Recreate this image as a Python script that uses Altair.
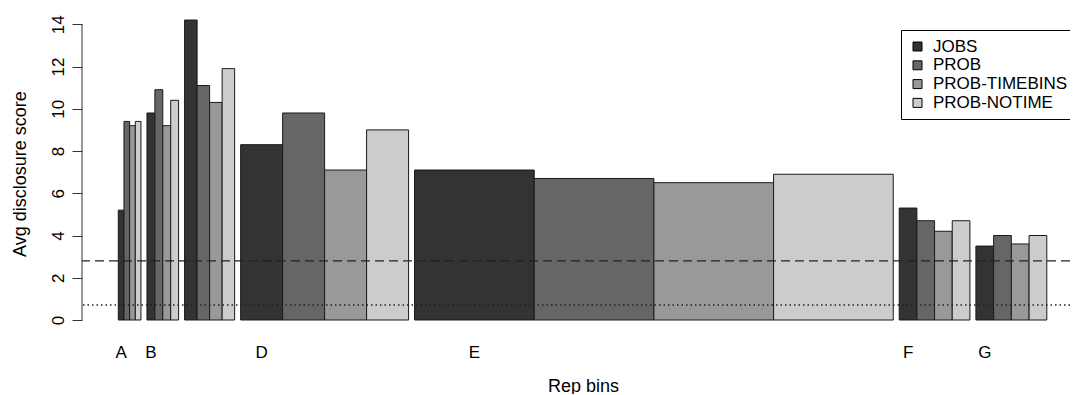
import altair as alt
import pandas as pd

# ---- data ----
groups = ["A", "B", "C", "D", "E", "F", "G"]
group_labels = ["A", "B", "", "D", "E", "F", "G"]
bin_widths = [0.947, 1.32, 2.09, 7.01, 19.98, 2.95, 2.96]
series = ["JOBS", "PROB", "PROB-TIMEBINS", "PROB-NOTIME"]
jobs = [5.2, 9.8, 14.2, 8.3, 7.1, 5.3, 3.5]
prob = [9.4, 10.9, 11.1, 9.8, 6.7, 4.7, 4.0]
prob_timebins = [9.2, 9.2, 10.3, 7.1, 6.5, 4.2, 3.6]
prob_notime = [9.4, 10.4, 11.9, 9.0, 6.9, 4.7, 4.0]
dashed_level = [2.8]
dotted_level = [0.71]
y_ticks = [0, 2, 4, 6, 8, 10, 12, 14]

gray_fills = ["#333333", "#666666", "#999999", "#cccccc"]
group_gap = 1.0
FONT = "Liberation Sans"

# ---- build table (like R's barplot with per-group widths) ----
values = [jobs, prob, prob_timebins, prob_notime]
rows, label_rows = [], []
start = 0.0
for gi, g in enumerate(groups):
    w = bin_widths[gi]
    for si, s in enumerate(series):
        x0 = start + si * w
        rows.append({"group": g, "series": s, "order": si,
                     "x0": x0, "x1": x0 + w, "value": values[si][gi]})
    label_rows.append({"label": group_labels[gi], "xc": start + w / 2})
    start += 4 * w + group_gap
df = pd.DataFrame(rows)
labels_df = pd.DataFrame(label_rows)

W, H = 988, 324
xscale = alt.Scale(domain=[-6.06, 158.9], nice=False, zero=False)
yscale = alt.Scale(domain=[-0.568, 14.77], nice=False, zero=False)

x_axis = alt.Axis(title="Rep bins", labels=False, ticks=False, domain=False,
                  grid=False, titleX=501, titleY=59, titleBaseline="alphabetic",
                  titleFontSize=18, titleFontWeight="normal", titleFont=FONT,
                  titleColor="black")
y_axis = alt.Axis(values=y_ticks, title="Avg disclosure score", domain=False,
                  grid=False, tickSize=10, tickColor="#333333", tickWidth=1,
                  labelAngle=270, labelAlign="center", labelBaseline="alphabetic",
                  labelPadding=9, labelFontSize=17, labelFont=FONT,
                  labelColor="black", titleAngle=270, titleX=-61.5, titleY=165.5,
                  titleAlign="center", titleBaseline="middle", titleFontSize=18,
                  titleFontWeight="normal", titleFont=FONT, titleColor="black")

bars = alt.Chart(df).mark_rect(stroke="#1a1a1a", strokeWidth=1).encode(
    x=alt.X("x0:Q", scale=xscale, axis=x_axis),
    x2="x1:Q",
    y=alt.Y("value:Q", scale=yscale, axis=y_axis),
    y2=alt.datum(0),
    color=alt.Color("series:N", sort=series,
                    scale=alt.Scale(domain=series, range=gray_fills),
                    legend=alt.Legend(title=None, orient="none", legendX=819, legendY=22,
                                      symbolType="square", symbolSize=81,
                                      symbolStrokeColor="black", symbolStrokeWidth=1,
                                      labelFontSize=17, labelFont=FONT, labelColor="black",
                                      labelOffset=7, strokeColor="black", fillColor="white",
                                      padding=8, rowPadding=0.8, cornerRadius=0,
                                      labelLimit=400)),
)

dashed = alt.Chart(pd.DataFrame({"level": dashed_level})).mark_rule(
    color="#222222", strokeWidth=1.1, strokeDash=[9, 5]
).encode(y=alt.Y("level:Q", scale=yscale, axis=y_axis))

dotted = alt.Chart(pd.DataFrame({"level": dotted_level})).mark_rule(
    color="#222222", strokeWidth=1.4, strokeDash=[1.5, 3]
).encode(y=alt.Y("level:Q", scale=yscale, axis=y_axis))

axis_line = alt.Chart(pd.DataFrame({"lo": [y_ticks[0]], "hi": [y_ticks[-1]]})).mark_rule(
    color="#333333", strokeWidth=1
).encode(x=alt.value(0), y=alt.Y("lo:Q", scale=yscale, axis=y_axis), y2="hi:Q")

group_text = alt.Chart(labels_df).mark_text(
    font=FONT, fontSize=17, color="black", baseline="alphabetic", align="center"
).encode(x=alt.X("xc:Q", scale=xscale, axis=x_axis), y=alt.value(350), text="label:N")

chart = alt.layer(bars, dashed, dotted, axis_line, group_text).properties(
    width=W, height=H,
    padding={"left": 74, "top": 0, "right": 0, "bottom": 62},
    autosize=alt.AutoSizeParams(type="none"),
).configure_view(stroke=None)

chart.save("out.html", embed_options={"renderer": "svg", "actions": False})
